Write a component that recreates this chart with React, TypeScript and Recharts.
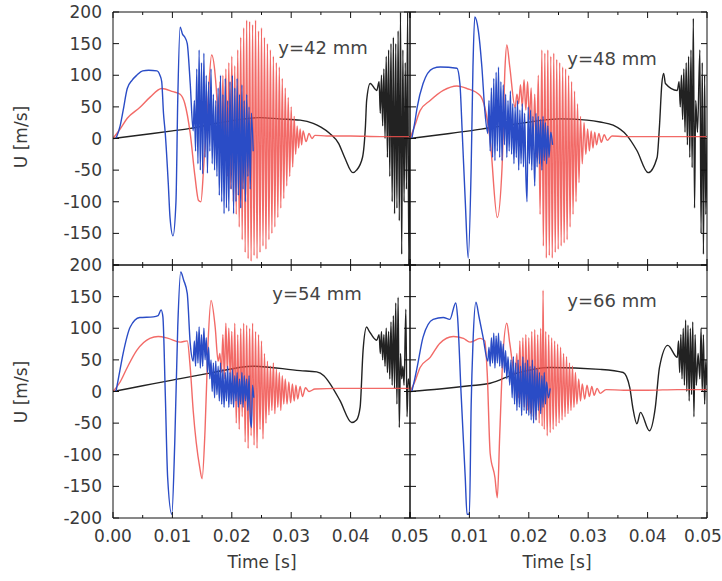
import { Line, LineChart, XAxis, YAxis } from "recharts";

// time in ms, U in m/s
type Pt = [number, number];

const blue42: Pt[] = [
  [0.5, 0], [1.2, 20], [1.7, 44], [2.4, 79], [3.2, 92], [4.0, 100], [5.0, 107], [6.0, 108], [7.4, 107], [7.9, 100],
  [8.2, 90], [8.5, 40], [8.8, 8], [9.3, -70], [9.6, -125], [10.1, -154], [10.6, -100], [10.9, 60], [11.3, 176], [11.7, 165],
  [12.1, 160], [12.5, 150], [13.0, 87], [13.5, 12], [13.7, 60], [13.9, -20], [14.1, 110], [14.3, -40], [14.5, 140], [14.7, -50],
  [14.9, 120], [15.1, -56], [15.3, 135], [15.5, -30], [15.7, 100], [15.9, -55], [16.1, 90], [16.3, -20], [16.5, 110], [16.7, -40],
  [16.9, 70], [17.1, -50], [17.3, 60], [17.5, -60], [17.7, 80], [17.9, -90], [18.1, 100], [18.3, -100], [18.5, 70], [18.7, -119],
  [18.9, 95], [19.1, -110], [19.3, 60], [19.5, -115], [19.7, 90], [19.9, -80], [20.1, 100], [20.3, -119], [20.5, 80], [20.7, -100],
  [20.9, 95], [21.1, -90], [21.3, 70], [21.5, -110], [21.7, 85], [21.9, -80], [22.1, 60], [22.3, -100], [22.5, 70], [22.7, -60],
  [22.9, 50], [23.1, -80], [23.3, 40], [23.6, -20],
];
const red42: Pt[] = [
  [0, 0], [1.2, 15], [2.4, 32], [4.5, 49], [6.2, 65], [8.2, 79], [10.1, 74], [11.3, 70], [12.1, 55], [13.0, 8],
  [13.8, -60], [14.4, -98], [14.8, -100], [15.3, -40], [16.0, 60], [16.6, 132], [17.2, 100], [17.5, 60], [17.75, -10], [18.0, 90],
  [18.25, -30], [18.5, 100], [18.75, -50], [19.0, 110], [19.25, -60], [19.5, 120], [19.75, -80], [20.0, 130], [20.25, -100], [20.5, 115],
  [20.75, -120], [21.0, 140], [21.25, -140], [21.5, 160], [21.75, -160], [22.0, 175], [22.25, -180], [22.5, 187], [22.75, -190], [23.0, 185],
  [23.25, -194], [23.5, 180], [23.75, -185], [24.0, 187], [24.25, -190], [24.5, 170], [24.75, -180], [25.0, 175], [25.25, -170], [25.5, 160],
  [25.75, -175], [26.0, 150], [26.25, -160], [26.5, 140], [26.75, -150], [27.0, 130], [27.25, -140], [27.5, 120], [27.75, -125], [28.0, 113],
  [28.25, -110], [28.5, 95], [28.75, -95], [29.0, 80], [29.25, -75], [29.5, 65], [29.75, -60], [30.0, 50], [30.25, -45], [30.5, 35],
  [30.75, -25], [31.0, 20], [31.25, -15], [31.5, 15], [31.75, -10], [32.0, 12], [32.5, -5], [33.0, 8], [33.5, 0], [34.0, 5],
  [36, 4], [40, 4], [45, 3], [50, 3],
];
const black42: Pt[] = [
  [0, 0], [5, 6], [10, 12], [13, 16], [18, 25], [24.7, 33], [28, 31], [31.5, 29], [33.7, 24], [35, 18],
  [36.5, 8], [38, -8], [39, -30], [40.4, -54], [41, -50], [42, -30], [42.5, 20], [42.7, 60], [43.3, 87], [44.4, 76],
  [44.8, 90], [45.0, 40], [45.2, 100], [45.4, 20], [45.6, 110], [45.8, 0], [46.0, 130], [46.2, -30], [46.4, 140], [46.6, -60],
  [46.8, 150], [47.0, -100], [47.2, 160], [47.4, -119], [47.6, 150], [47.8, -110], [48.0, 170], [48.2, -130], [48.4, 200], [48.6, -183],
  [48.8, 140], [49.0, -100], [49.2, 120], [49.4, -80], [49.6, 200], [49.8, -200], [50, 0],
];

const blue48: Pt[] = [
  [0.3, 0], [0.8, 25], [1.2, 49], [2.2, 87], [3.9, 111], [5.1, 113], [7.9, 111], [8.4, 87], [8.8, 8], [9.3, -98],
  [9.8, -189], [10.3, -45], [10.6, 113], [10.9, 192], [11.5, 171], [12.1, 113], [12.6, 44], [13.1, 8], [13.3, 60], [13.5, -20],
  [13.7, 80], [13.9, -30], [14.1, 95], [14.3, -35], [14.5, 105], [14.7, -20], [14.9, 113], [15.1, -30], [15.3, 90], [15.5, -35],
  [15.7, 85], [15.9, -10], [16.1, 70], [16.3, -30], [16.5, 60], [16.7, -20], [16.9, 75], [17.1, -25], [17.3, 55], [17.5, -40],
  [17.7, 50], [17.9, -30], [18.1, 60], [18.3, -50], [18.5, 45], [18.7, -40], [18.9, 55], [19.1, -45], [19.3, 40], [19.5, -55],
  [19.7, -100], [19.9, 50], [20.1, -40], [20.3, 45], [20.5, -50], [20.7, 35], [21.0, -75], [21.2, 40], [21.4, -45], [21.6, 35],
  [21.8, -40], [22.0, 30], [22.2, -50], [22.4, 35], [22.6, -35], [22.8, 25], [23.0, -40], [23.2, 20], [23.4, -30], [23.7, 10],
  [24.0, -10],
];
const red48: Pt[] = [
  [0, 0], [0.8, 20], [1.7, 44], [3.4, 60], [5.6, 76], [7.9, 83], [9.6, 79], [11.8, 68], [12.6, 49], [13.5, -3],
  [14.7, -125], [15.5, -45], [16.0, 113], [16.3, 148], [16.8, 113], [17.7, 49], [18.0, 70], [18.3, 55], [18.6, 85], [18.9, 50],
  [19.2, 93], [19.5, 45], [19.8, 90], [20.1, 30], [20.4, 80], [20.7, -18], [21.0, 70], [21.3, -30], [21.6, 100], [21.9, -120],
  [22.2, 140], [22.45, -170], [22.7, 135], [22.95, -189], [23.2, 140], [23.45, -185], [23.7, 130], [23.95, -189], [24.2, 135], [24.45, -180],
  [24.7, 125], [24.95, -175], [25.2, 120], [25.45, -170], [25.7, 113], [25.95, -165], [26.2, 110], [26.45, -160], [26.7, 100], [26.95, -140],
  [27.2, 90], [27.45, -120], [27.7, 75], [27.95, -100], [28.2, 55], [28.45, -70], [28.7, 35], [29.0, -40], [29.3, 25], [29.6, -25],
  [29.9, 15], [30.2, -20], [30.5, 12], [30.8, -15], [31.1, 10], [31.4, -10], [31.8, 8], [32.2, -6], [32.7, 6], [33.2, -3],
  [34, 4], [36, 3], [40, 3], [45, 3], [50, 3],
];
const black48: Pt[] = [
  [0, 0], [5, 6], [10, 12], [13.5, 17], [18, 23], [25.3, 31], [29.8, 29], [32, 26], [34.2, 21], [36.5, 5],
  [38.2, -19], [40.1, -54], [41.6, -30], [42.0, 20], [42.4, 87], [42.7, 103], [43.0, 87], [45.0, 76], [45.3, 90], [45.5, 50],
  [45.7, 100], [45.9, 30], [46.1, 110], [46.3, 10], [46.5, 120], [46.7, -10], [46.9, 130], [47.1, -30], [47.3, 140], [47.5, -46],
  [47.7, 190], [47.9, -110], [48.1, 60], [48.4, 10], [48.8, 140], [49.0, -150], [49.2, 120], [49.4, -183], [49.6, 100], [49.8, -120],
  [50, 0],
];

const blue54: Pt[] = [
  [0.5, 0], [1.0, 25], [1.7, 60], [2.9, 102], [4.5, 117], [6.8, 118], [7.6, 120], [8.1, 129], [8.4, 118], [8.8, -3],
  [9.2, -136], [9.9, -194], [10.4, -80], [10.9, 102], [11.4, 189], [11.9, 176], [12.5, 155], [13.0, 76], [13.5, 48], [13.7, 80],
  [13.9, 40], [14.1, 95], [14.3, 45], [14.5, 102], [14.7, 37], [14.9, 90], [15.1, 40], [15.3, 100], [15.5, 50], [15.7, 85],
  [15.9, 30], [16.1, 70], [16.3, 20], [16.5, 50], [16.7, 0], [16.9, 45], [17.1, -10], [17.3, 48], [17.5, -5], [17.7, 40],
  [17.9, -15], [18.1, 45], [18.3, -20], [18.5, 35], [18.7, -25], [18.9, 30], [19.1, -15], [19.3, 40], [19.5, -25], [19.7, 30],
  [19.9, -20], [20.1, 35], [20.3, -25], [20.5, 25], [20.7, -15], [20.9, 30], [21.1, -25], [21.3, 20], [21.5, -20], [21.7, 30],
  [21.9, -25], [22.1, 25], [22.3, -15], [22.5, 20], [22.7, -30], [22.9, 25], [23.1, -40], [23.3, -57], [23.5, 10], [23.7, -10],
];
const red54: Pt[] = [
  [0, 0], [1.2, 15], [2.4, 38], [4.0, 65], [6.2, 84], [7.6, 87], [9.3, 84], [11.3, 78], [12.5, 80], [13.0, 38],
  [13.5, -30], [14.6, -120], [15.0, -138], [15.5, -60], [16.0, 76], [16.5, 144], [17.2, 102], [17.7, 48], [18.0, 60], [18.25, 30],
  [18.5, 90], [18.75, 20], [19.0, 108], [19.25, 30], [19.5, 100], [19.75, 18], [20.0, 95], [20.25, -20], [20.5, 108], [20.75, -50],
  [21.0, 90], [21.25, -60], [21.5, 100], [21.75, -40], [22.0, 108], [22.25, -80], [22.5, 105], [22.75, -90], [23.0, 100], [23.25, -70],
  [23.5, 108], [23.75, -85], [24.0, 95], [24.25, -90], [24.5, 90], [24.75, -60], [25.0, 80], [25.25, -75], [25.5, 60], [25.75, -50],
  [26.0, 48], [26.25, -37], [26.5, 40], [26.75, -30], [27.0, 45], [27.25, -35], [27.5, 35], [27.75, -25], [28.0, 30], [28.25, -30],
  [28.5, 25], [28.75, -20], [29.0, 20], [29.3, -20], [29.6, 15], [29.9, -18], [30.2, 12], [30.5, -15], [30.8, 10], [31.1, -12],
  [31.5, 8], [31.9, -8], [32.4, 6], [33, 0], [34, 4], [38, 5], [45, 5], [50, 5],
];
const black54: Pt[] = [
  [0, 0], [5, 9], [10, 18], [16.3, 29], [23.6, 40], [31.5, 33], [34.3, 31], [35.5, 25], [36.5, 13], [38.2, -14],
  [40.2, -49], [41, -45], [41.6, -25], [42.1, 65], [42.7, 102], [43.1, 96], [44.4, 81], [44.8, 90], [45.0, 60], [45.2, 95],
  [45.4, 50], [45.6, 90], [45.8, 40], [46.0, 100], [46.2, 30], [46.4, 95], [46.6, 20], [46.8, 110], [47.0, 10], [47.2, 120],
  [47.4, 5], [47.6, 140], [47.8, -20], [48.0, 149], [48.2, -57], [48.4, 60], [48.6, 20], [48.8, 40], [49.0, 10], [49.3, 130],
  [49.5, -40], [49.7, 20], [50, 5],
];

const blue66: Pt[] = [
  [0.3, 0], [0.8, 20], [1.2, 38], [2.2, 86], [3.9, 114], [5.6, 117], [6.7, 114], [7.7, 140], [8.0, 119], [8.6, -3],
  [9.3, -136], [9.6, -194], [10.0, -194], [10.3, -20], [10.6, 76], [11.1, 141], [11.6, 119], [12.3, 86], [13.1, 48], [13.3, 70],
  [13.5, 40], [13.7, 85], [13.9, 45], [14.1, 92], [14.3, 37], [14.5, 88], [14.7, 45], [14.9, 92], [15.1, 40], [15.3, 80],
  [15.5, 37], [15.7, 75], [15.9, 30], [16.1, 65], [16.3, 20], [16.5, 55], [16.8, 10], [17.0, 50], [17.2, -10], [17.4, 55],
  [17.6, -20], [17.8, 45], [18.0, -30], [18.2, 50], [18.4, -25], [18.6, 40], [18.8, -38], [19.0, 55], [19.2, -30], [19.4, 45],
  [19.6, -35], [19.8, 50], [20.0, -38], [20.2, 40], [20.4, -45], [20.6, 50], [20.8, -50], [21.0, 40], [21.2, -45], [21.4, 35],
  [21.6, -30], [21.8, 30], [22.0, -35], [22.2, 25], [22.4, -25], [22.6, 30], [22.8, -20], [23.0, 15], [23.3, -10], [23.6, 5],
];
const red66: Pt[] = [
  [0, 0], [0.8, 15], [1.7, 38], [3.4, 54], [5.0, 76], [7.3, 87], [9.0, 84], [10.1, 78], [11.8, 84], [12.6, 80],
  [13.0, 29], [13.5, -98], [14.3, -136], [14.7, -168], [15.1, -70], [15.6, 49], [16.3, 108], [16.8, 76], [17.7, 25], [18.0, 60],
  [18.25, -10], [18.5, 80], [18.75, -20], [19.0, 85], [19.25, -25], [19.5, 90], [19.75, -30], [20.0, 85], [20.25, -35], [20.5, 95],
  [20.75, -40], [21.0, 98], [21.25, -45], [21.5, 90], [21.75, -50], [22.0, 100], [22.25, -55], [22.4, 160], [22.6, -60], [22.85, 95],
  [23.1, -70], [23.35, 90], [23.6, -65], [23.85, 85], [24.1, -60], [24.35, 80], [24.6, -55], [24.85, 75], [25.1, -50], [25.35, 70],
  [25.6, -45], [25.85, 60], [26.1, -40], [26.35, 55], [26.6, -35], [26.85, 45], [27.1, -30], [27.35, 40], [27.6, -25], [27.85, 30],
  [28.1, -20], [28.4, 20], [28.7, -15], [29.0, 12], [29.4, -12], [29.8, 10], [30.2, -8], [30.6, 8], [31.0, -6], [31.5, 5],
  [32, -3], [33, 3], [36, 2], [40, 2], [45, 3], [50, 3],
];
const black66: Pt[] = [
  [0, 0], [5, 4], [10, 9], [13.5, 13], [18.0, 29], [23.6, 38], [32, 35], [35.9, 30], [37, 6], [37.5, -25],
  [38.2, -51], [38.8, -33], [40.3, -62], [41.3, -25], [42.0, 38], [43.4, 73], [45.0, 54], [45.2, 80], [45.4, 30], [45.6, 90],
  [45.8, 20], [46.0, 100], [46.2, 10], [46.4, 113], [46.6, 0], [46.8, 105], [47.0, -15], [47.2, 100], [47.4, -5], [47.6, 110],
  [47.8, -40], [48.0, 90], [48.2, 10], [48.5, 60], [48.8, 20], [49.0, 100], [49.2, 0], [49.4, 90], [49.6, -20], [49.8, 50],
  [50, 10],
];

const yTicks = [-200, -175, -150, -125, -100, -75, -50, -25, 0, 25, 50, 75, 100, 125, 150, 175, 200];
const yLabelsTop = [200, 150, 100, 50, 0, -50, -100, -150];
const yLabelsBottom = [200, 150, 100, 50, 0, -50, -100, -150, -200];
const xTicks = [0, 5, 10, 15, 20, 25, 30, 35, 40, 45, 50];
const xLabelsLeft = [0, 10, 20, 30, 40, 50];
const xLabelsRight = [10, 20, 30, 40, 50];

const BLUE = "#2a4cc6";
const RED = "#f0504c";
const BLACK = "#222";
const INK = "#3a3a3a";
const FONT = "'DejaVu Sans', sans-serif";

const PW = 297;
const PH = 253;
const M = { top: 10, right: 40, bottom: 40, left: 70 };
const L = M.left;
const R = M.left + PW;
const T = M.top;
const B = M.top + PH;

const rows = (pts: Pt[]) => pts.map(([t, v]) => ({ t, v }));

function Panel(props: {
  x: number;
  y: number;
  blue: Pt[];
  red: Pt[];
  black: Pt[];
  yLabels: number[];
  xLabels: number[];
}) {
  const { x, y, blue, red, black, yLabels, xLabels } = props;
  const tk = { stroke: "#111", strokeWidth: 1 };

  // inward tick marks drawn by hand at the axis' own tick positions; labels outside
  const yTickL = (p: any) => {
    const v = p.payload.value;
    const len = v % 50 === 0 ? 6 : 3;
    return (
      <g>
        <line x1={L} x2={L + len} y1={p.y} y2={p.y} {...tk} />
        {yLabels.includes(v) && (
          <text x={L - 11} y={p.y} dy={6} textAnchor="end" fontSize={17} fontFamily={FONT} fill={INK}>
            {v}
          </text>
        )}
      </g>
    );
  };
  const yTickR = (p: any) => {
    const len = p.payload.value % 50 === 0 ? 6 : 3;
    return <line x1={R} x2={R - len} y1={p.y} y2={p.y} {...tk} />;
  };
  const xTickB = (p: any) => {
    const v = p.payload.value;
    const len = v % 10 === 0 ? 6 : 3;
    const lx = Math.min(p.x, 722 - 19 - (x - L));
    return (
      <g>
        <line x1={p.x} x2={p.x} y1={B} y2={B - len} {...tk} />
        {xLabels.includes(v) && (
          <text x={lx} y={B + 24} textAnchor="middle" fontSize={17} fontFamily={FONT} fill={INK}>
            {(v / 1000).toFixed(2)}
          </text>
        )}
      </g>
    );
  };
  const xTickT = (p: any) => {
    const len = p.payload.value % 10 === 0 ? 6 : 3;
    return <line x1={p.x} x2={p.x} y1={T} y2={T + len} {...tk} />;
  };

  const base = { type: "number" as const, allowDataOverflow: true, mirror: true, tickLine: false, stroke: "#111" };

  return (
    <div style={{ position: "absolute", left: x - L, top: y - T }}>
      <LineChart width={PW + M.left + M.right} height={PH + M.top + M.bottom} margin={M}>
        <XAxis xAxisId="b" dataKey="t" domain={[0, 50]} ticks={xTicks} tick={xTickB} {...base} />
        <XAxis xAxisId="t" orientation="top" dataKey="t" domain={[0, 50]} ticks={xTicks} tick={xTickT} {...base} />
        <YAxis yAxisId="l" domain={[-200, 200]} ticks={yTicks} tick={yTickL} {...base} />
        <YAxis yAxisId="r" orientation="right" domain={[-200, 200]} ticks={yTicks} tick={yTickR} {...base} />
        <Line xAxisId="b" yAxisId="l" type="monotone" data={rows(black)} dataKey="v" stroke={BLACK} strokeWidth={1.4} dot={false} isAnimationActive={false} />
        <Line xAxisId="b" yAxisId="l" type="monotone" data={rows(red)} dataKey="v" stroke={RED} strokeOpacity={0.85} strokeWidth={1.4} dot={false} isAnimationActive={false} />
        <Line xAxisId="b" yAxisId="l" type="monotone" data={rows(blue)} dataKey="v" stroke={BLUE} strokeWidth={1.4} dot={false} isAnimationActive={false} />
      </LineChart>
    </div>
  );
}

const note = (text: string, cx: number, cy: number) => (
  <div
    style={{
      position: "absolute",
      left: cx,
      top: cy,
      transform: "translate(-50%, -50%)",
      fontFamily: FONT,
      fontSize: 18,
      color: "#444",
      whiteSpace: "nowrap",
    }}
  >
    {text}
  </div>
);

export default function App() {
  return (
    <div style={{ position: "absolute", left: 0, top: 0, width: 722, height: 581, background: "#fff", overflow: "hidden" }}>
      <Panel x={113} y={12} blue={blue42} red={red42} black={black42} yLabels={yLabelsTop} xLabels={[]} />
      <Panel x={410} y={12} blue={blue48} red={red48} black={black48} yLabels={[]} xLabels={[]} />
      <Panel x={113} y={265} blue={blue54} red={red54} black={black54} yLabels={yLabelsBottom} xLabels={xLabelsLeft} />
      <Panel x={410} y={265} blue={blue66} red={red66} black={black66} yLabels={[]} xLabels={xLabelsRight} />

      {note("y=42 mm", 323, 47)}
      {note("y=48 mm", 612, 58)}
      {note("y=54 mm", 317, 293)}
      {note("y=66 mm", 612, 300)}

      <div style={{ position: "absolute", left: 262, top: 562, transform: "translate(-50%, -50%)", fontFamily: FONT, fontSize: 17, color: INK }}>
        Time [s]
      </div>
      <div style={{ position: "absolute", left: 557, top: 562, transform: "translate(-50%, -50%)", fontFamily: FONT, fontSize: 17, color: INK }}>
        Time [s]
      </div>
      {[137, 392].map((cy) => (
        <div
          key={cy}
          style={{
            position: "absolute",
            left: 21,
            top: cy,
            transform: "translate(-50%, -50%) rotate(-90deg)",
            fontFamily: FONT,
            fontSize: 17,
            color: INK,
            whiteSpace: "nowrap",
          }}
        >
          U [m/s]
        </div>
      ))}
    </div>
  );
}
